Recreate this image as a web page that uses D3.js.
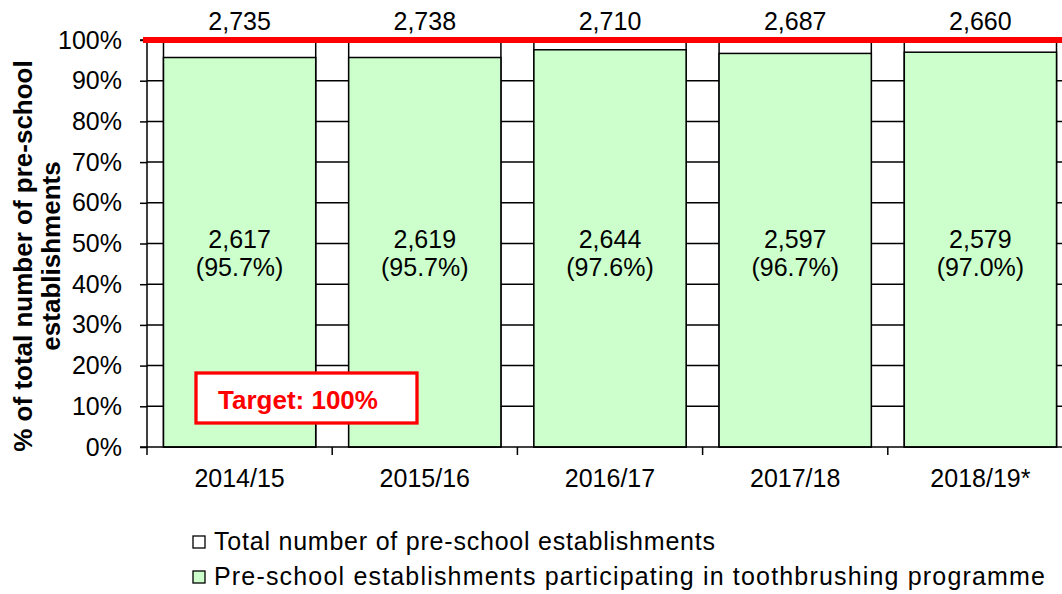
<!DOCTYPE html>
<html>
<head>
<meta charset="utf-8">
<script src="https://cdn.jsdelivr.net/npm/d3@7"></script>
<style>
  body { margin: 0; background: #fff; }
  text { font-family: "Liberation Sans", Arial, sans-serif; }
</style>
</head>
<body>
<script>
// chart data
var years = ["2014/15", "2015/16", "2016/17", "2017/18", "2018/19*"];
var totals = [2735, 2738, 2710, 2687, 2660];
var participating = [2617, 2619, 2644, 2597, 2579];
var percents = [95.7, 95.7, 97.6, 96.7, 97.0];
var yTicks = [0, 10, 20, 30, 40, 50, 60, 70, 80, 90, 100];
var legendLabels = ["Total number of pre-school establishments",
    "Pre-school establishments participating in toothbrushing programme"];
var target = 100;

var svg_width = 1062, svg_height = 594;
var plotLeft = 147, plotTop = 40, plotBottom = 447, plotRight = 1073;
var fs = 25;
var fmt = d3.format(",");

var svg = d3.select("body").append("svg")
    .attr("width", svg_width)
    .attr("height", svg_height);

var x = d3.scaleBand().domain(years).range([plotLeft, plotRight]).paddingInner(0.178).paddingOuter(0.089);
var y = d3.scaleLinear().domain([0, 100]).range([plotBottom, plotTop]);

// gridlines (only show in the gaps between bars)
svg.append("g").selectAll("line")
    .data(yTicks.slice(1))
    .enter().append("line")
    .attr("x1", plotLeft).attr("x2", plotRight)
    .attr("y1", function (d) { return y(d); })
    .attr("y2", function (d) { return y(d); })
    .attr("stroke", "#000").attr("stroke-width", 1.5);

// total bars (white, full height)
svg.append("g").selectAll("rect")
    .data(years)
    .enter().append("rect")
    .attr("x", function (d) { return x(d); })
    .attr("y", y(100))
    .attr("width", x.bandwidth())
    .attr("height", plotBottom - y(100))
    .attr("fill", "#fff").attr("stroke", "#000").attr("stroke-width", 1.5);

// participating bars
svg.append("g").selectAll("rect")
    .data(years)
    .enter().append("rect")
    .attr("x", function (d) { return x(d); })
    .attr("y", function (d, i) { return y(percents[i]); })
    .attr("width", x.bandwidth())
    .attr("height", function (d, i) { return plotBottom - y(percents[i]); })
    .attr("fill", "#CCFFCC").attr("stroke", "#000").attr("stroke-width", 1.5);

// y axis
var yAxis = d3.axisLeft(y).tickValues(yTicks).tickSize(7).tickPadding(18)
    .tickFormat(function (d) { return d + "%"; });
var ya = svg.append("g").attr("transform", "translate(" + plotLeft + ",0)").call(yAxis);
ya.select(".domain").attr("stroke-width", 1.5).attr("d", "M-7," + y(0) + "H0V" + y(100) + "H-7");
ya.selectAll(".tick line").attr("stroke-width", 1.5);
ya.selectAll("text").attr("font-size", fs).attr("fill", "#000")
    .style("font-family", "'Liberation Sans', Arial, sans-serif");

// x axis
var xa = svg.append("g").attr("transform", "translate(0," + plotBottom + ")");
xa.append("line").attr("x1", plotLeft).attr("x2", plotRight).attr("stroke", "#000").attr("stroke-width", 1.5);
var step = x.step();
xa.selectAll(".xt").data(d3.range(years.length + 1)).enter().append("line")
    .attr("x1", function (i) { return plotLeft + i * step; })
    .attr("x2", function (i) { return plotLeft + i * step; })
    .attr("y1", 0).attr("y2", 8)
    .attr("stroke", "#000").attr("stroke-width", 1.5);
xa.selectAll(".xl").data(years).enter().append("text")
    .attr("x", function (d) { return x(d) + x.bandwidth() / 2; })
    .attr("y", 40)
    .attr("text-anchor", "middle").attr("font-size", fs)
    .text(function (d) { return d; });

// target line
svg.append("line")
    .attr("x1", 143).attr("x2", svg_width)
    .attr("y1", y(target)).attr("y2", y(target))
    .attr("stroke", "#FF0000").attr("stroke-width", 6);

// total labels
svg.append("g").selectAll("text")
    .data(years).enter().append("text")
    .attr("x", function (d) { return x(d) + x.bandwidth() / 2; })
    .attr("y", 29.5)
    .attr("text-anchor", "middle").attr("font-size", fs)
    .text(function (d, i) { return fmt(totals[i]); });

// inner labels
var inner = svg.append("g").selectAll("text")
    .data(years).enter().append("text")
    .attr("text-anchor", "middle").attr("font-size", fs);
inner.append("tspan")
    .attr("x", function (d) { return x(d) + x.bandwidth() / 2; })
    .attr("y", 248)
    .text(function (d, i) { return fmt(participating[i]); });
inner.append("tspan")
    .attr("x", function (d) { return x(d) + x.bandwidth() / 2; })
    .attr("y", 276)
    .text(function (d, i) { return "(" + percents[i].toFixed(1) + "%)"; });

// target box
svg.append("rect")
    .attr("x", 196).attr("y", 373).attr("width", 221).attr("height", 50)
    .attr("fill", "#fff").attr("stroke", "#FF0000").attr("stroke-width", 3.3);
svg.append("text")
    .attr("x", 298).attr("y", 409)
    .attr("text-anchor", "middle").attr("font-size", 26).attr("font-weight", "bold")
    .attr("fill", "#FF0000")
    .text("Target: " + target + "%");

// y axis title
var yt = svg.append("text")
    .attr("transform", "translate(0,256) rotate(-90)")
    .attr("text-anchor", "middle").attr("font-size", 26).attr("font-weight", "bold");
yt.append("tspan").attr("x", 0).attr("y", 32).text("% of total number of pre-school");
yt.append("tspan").attr("x", 0).attr("y", 60).text("establishments");

// legend
var legendWidths = [501, 831];
var legend = svg.append("g").selectAll("g")
    .data(legendLabels).enter().append("g")
    .attr("transform", function (d, i) { return "translate(193," + (536 + i * 35) + ")"; });
legend.append("rect")
    .attr("width", 12).attr("height", 12)
    .attr("fill", function (d, i) { return i === 0 ? "#fff" : "#CCFFCC"; })
    .attr("stroke", "#000").attr("stroke-width", 1.3);
legend.append("text")
    .attr("x", 21).attr("y", 14)
    .attr("font-size", fs)
    .attr("textLength", function (d, i) { return legendWidths[i]; })
    .attr("lengthAdjust", "spacing")
    .text(function (d) { return d; });
</script>
</body>
</html>
